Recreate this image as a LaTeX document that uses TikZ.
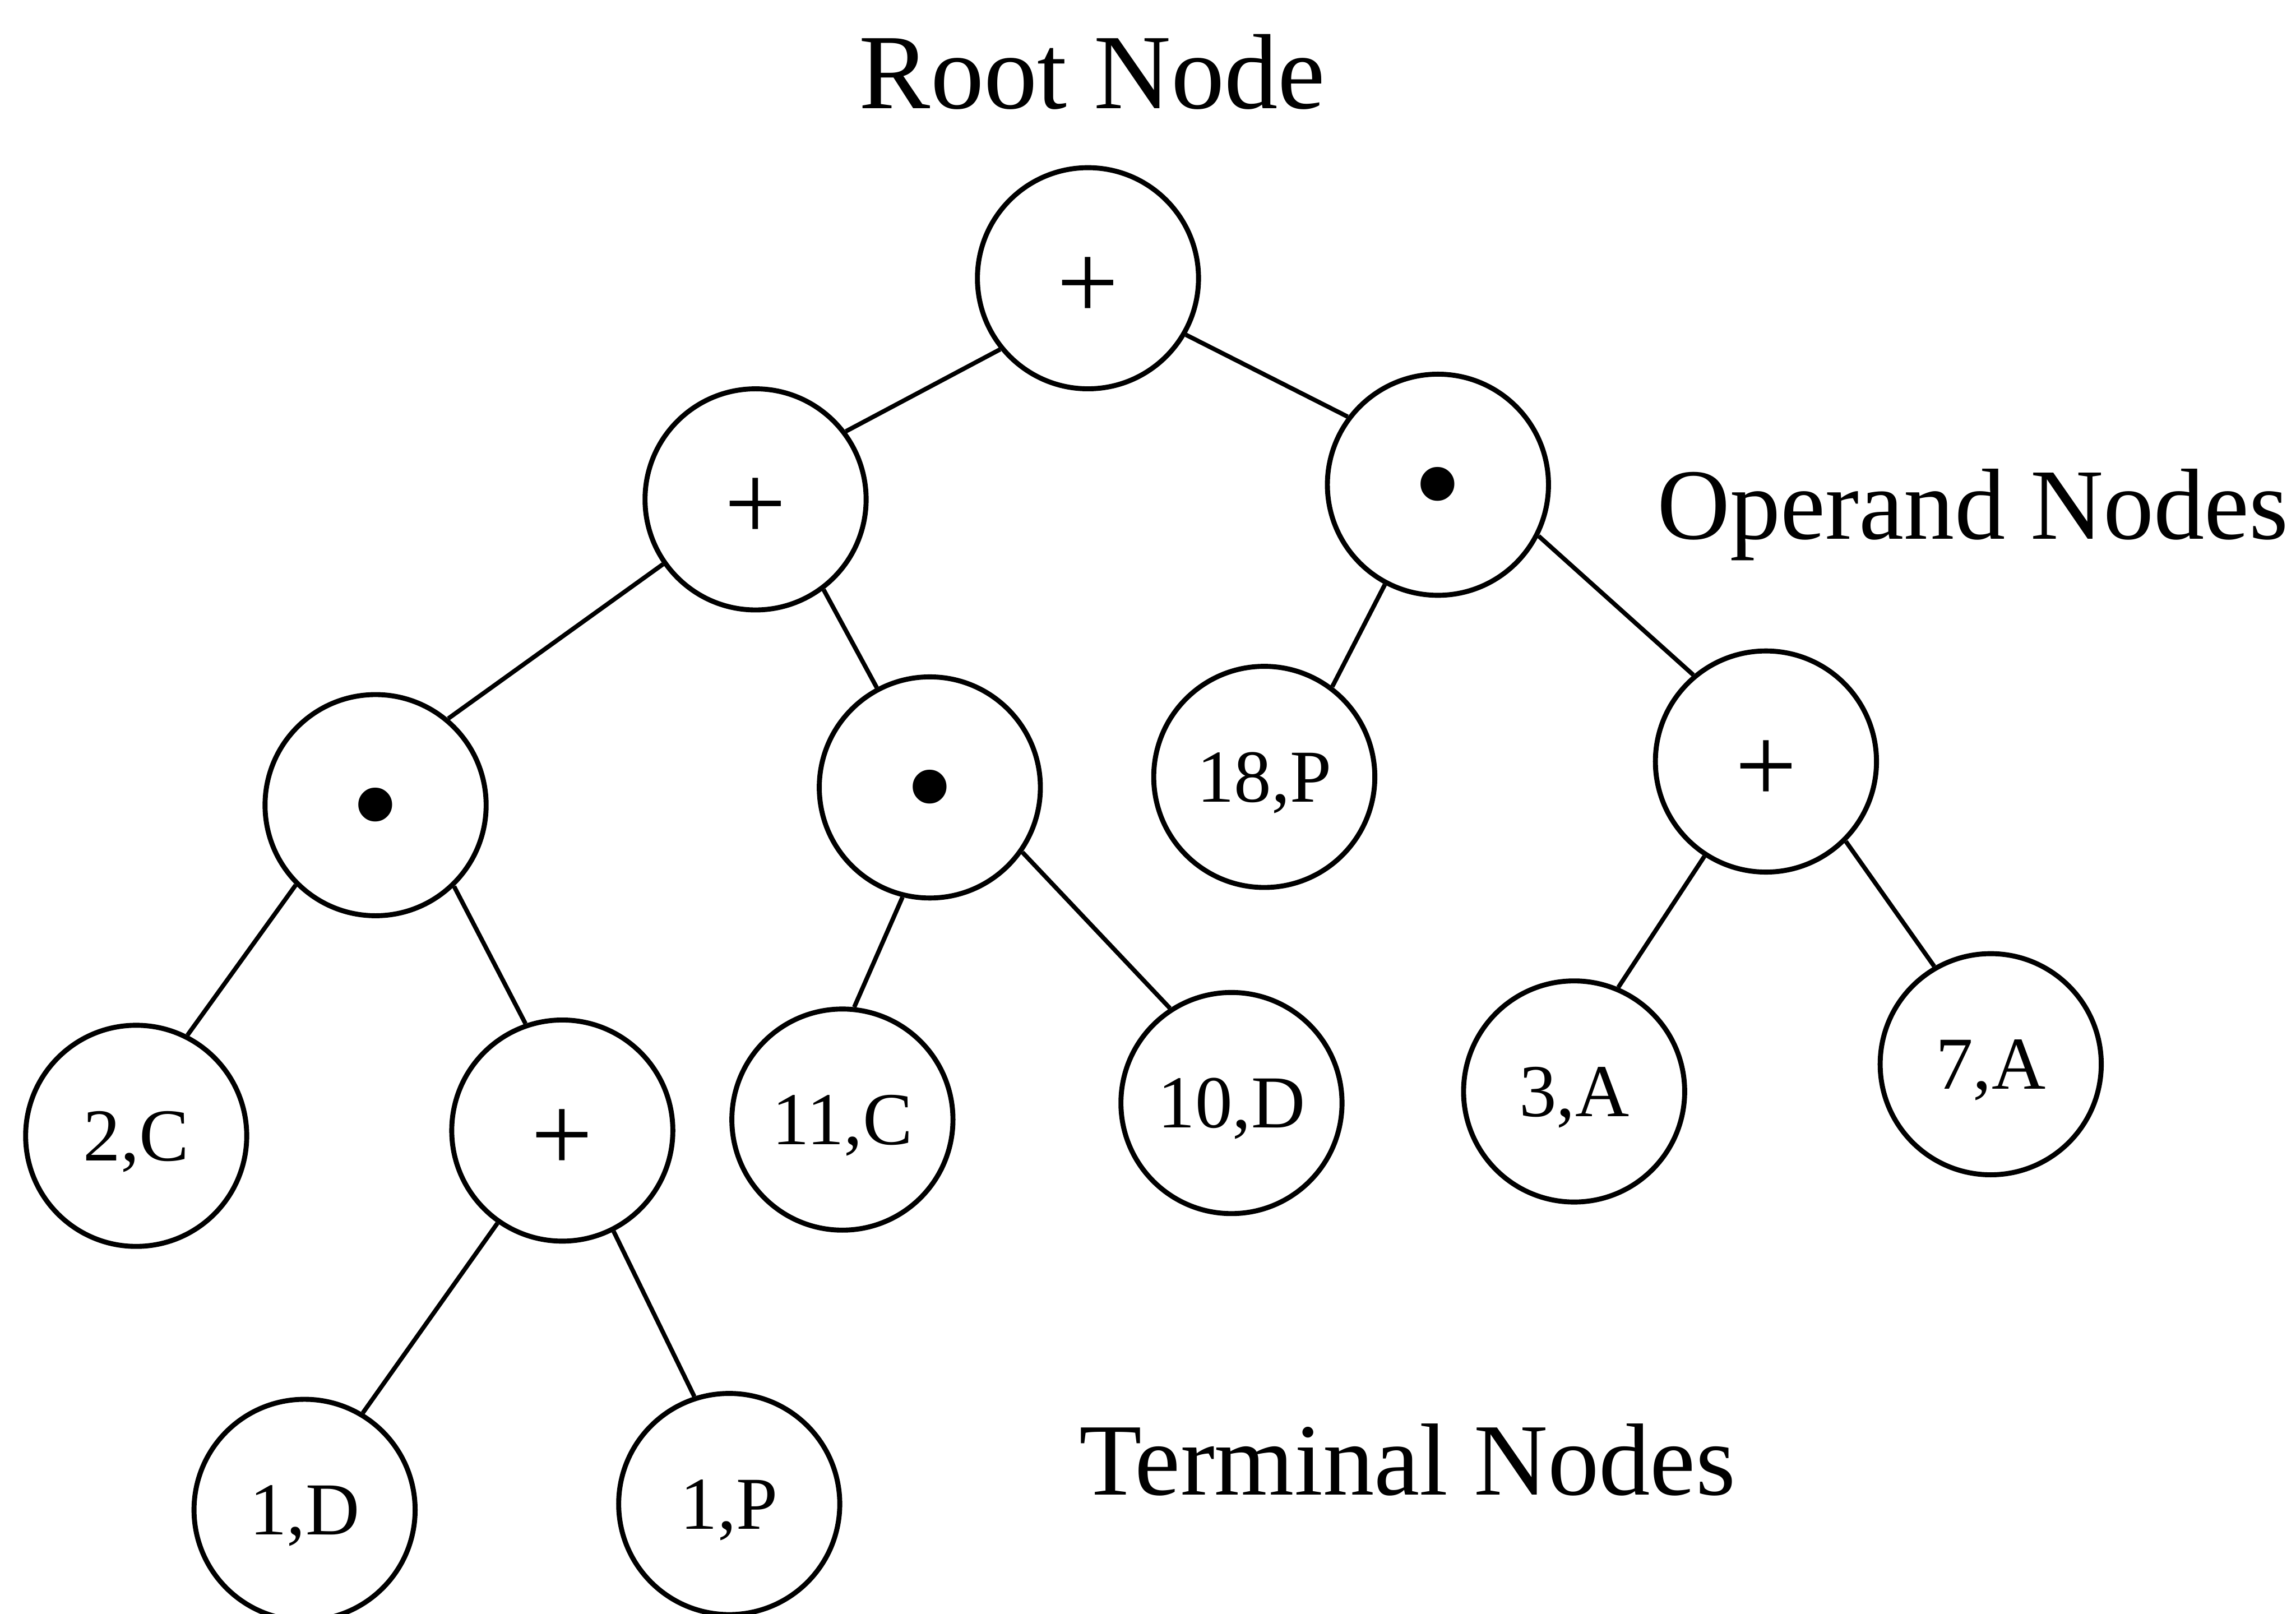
\documentclass[tikz,border=0pt]{standalone}
\usepackage{fontspec}
\setmainfont{Liberation Serif}
\begin{document}
\begin{tikzpicture}[x=1pt,y=-1pt,
  treenode/.style={circle, draw, line width=3.4pt, minimum size=151pt, inner sep=0pt},
  opnode/.style={treenode, font=\fontsize{75}{75}\selectfont, text height=56pt, text depth=0pt},
  dotnode/.style={treenode, font=\fontsize{97}{97}\selectfont, text height=63.8pt, text depth=0pt},
  leafnode/.style={treenode, font=\fontsize{51}{51}\selectfont, text height=34pt, text depth=0pt},
  link/.style={line width=3pt},
  caption/.style={inner sep=0pt}]
\useasboundingbox (0,0) rectangle (1568,1102.1);

% operator nodes
\node[opnode]  (root)    at (743,190)     {+};
\node[opnode]  (lplus)   at (516,341)     {+};
\node[dotnode] (rdot)    at (982,331)     {•};
\node[dotnode] (ldot)    at (256.5,549.8) {•};
\node[dotnode] (mdot)    at (635,537.7)   {•};
\node[opnode]  (rplus)   at (1206,520)    {+};
\node[opnode]  (lowplus) at (384,772)     {+};

% terminal nodes
\node[leafnode] (p18) at (863.4,530.5) {18,P};
\node[leafnode] (c2)  at (93,775.6)    {2,C};
\node[leafnode] (c11) at (575.3,764.5) {11,C};
\node[leafnode] (d10) at (841,753.2)   {10,D};
\node[leafnode] (a3)  at (1075,745.3)  {3,A};
\node[leafnode] (a7)  at (1359.5,726.7){7,A};
\node[leafnode] (d1)  at (208,1031)    {1,D};
\node[leafnode] (p1)  at (498,1027)    {1,P};

% branches
\draw[link] (root.-141)    -- (lplus.37);
\draw[link] (root.-30)     -- (rdot.143);
\draw[link] (lplus.-145)   -- (ldot.50);
\draw[link] (lplus.-53)    -- (mdot.118);
\draw[link] (rdot.-118)    -- (p18.53.5);
\draw[link] (rdot.-27)     -- (rplus.130);
\draw[link] (ldot.-135)    -- (c2.63);
\draw[link] (ldot.-46)     -- (lowplus.109);
\draw[link] (mdot.-104)    -- (c11.84.5);
\draw[link] (mdot.-35)     -- (d10.123);
\draw[link] (rplus.-123)   -- (a3.67);
\draw[link] (rplus.-45)    -- (a7.120);
\draw[link] (lowplus.-125) -- (d1.59);
\draw[link] (lowplus.-63)  -- (p1.108.5);

% captions
\node[caption, anchor=base, font=\fontsize{73}{73}\selectfont]      (rootcap) at (746,74.2)     {Root Node};
\node[caption, anchor=base west, font=\fontsize{69}{69}\selectfont] (opcap)   at (1131.6,367.9) {Operand Nodes};
\node[caption, anchor=base west, font=\fontsize{70}{70}\selectfont] (termcap) at (737,1020.6)   {Terminal Nodes};
\end{tikzpicture}
\end{document}
